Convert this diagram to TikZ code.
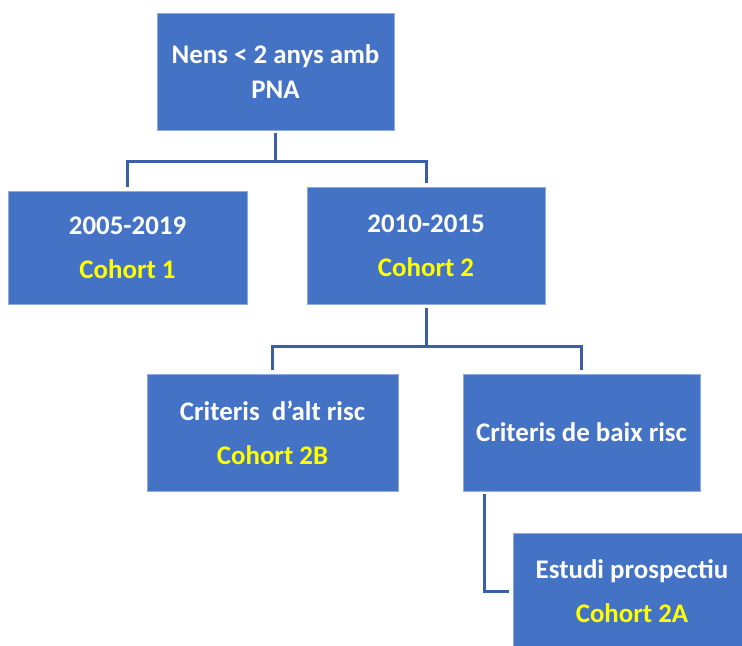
\documentclass[tikz,border=0pt]{standalone}
\usepackage{fontspec}
\setmainfont{Carlito}
\usepackage{xcolor}
\definecolor{boxblue}{RGB}{68,114,196}
\definecolor{boxedge}{RGB}{143,170,220}
\definecolor{linkblue}{RGB}{59,94,168}
\definecolor{cohortyellow}{RGB}{255,255,0}

\begin{document}
\begin{tikzpicture}[
        box/.style={
            rectangle,
            fill=boxblue,
            draw=boxedge,
            line width=0.4pt,
            text=white,
            align=center,
            inner sep=0pt,
            minimum height=2.34cm,
            font=\bfseries\fontsize{15.3}{20.4}\selectfont,
          },
        box/.default=4.74cm,
        link/.style={
            draw=linkblue,
            line width=1.7pt,
          },
        cohort/.style={text=cohortyellow}
        ]
        \useasboundingbox (0, 0) rectangle (14.84, -12.9);
        \clip (0, 0) rectangle (14.84, -12.9);

        \node[box, minimum width=4.74cm] (n0) at (5.51, -1.43) {Nens < 2 anys amb\\PNA};
        \node[box, minimum width=4.78cm, minimum height=2.26cm] (y1) at (2.55, -4.95)
            {2005-2019\\[4.6pt]\textcolor{cohortyellow}{Cohort 1}};
        \node[box, minimum width=4.76cm] (y2) at (8.52, -4.91)
            {2010-2015\\[4.6pt]\textcolor{cohortyellow}{Cohort 2}};
        \node[box, minimum width=5.02cm] (r1) at (5.45, -8.65)
            {Criteris\ \ d’alt risc\\[4.6pt]\textcolor{cohortyellow}{Cohort 2B}};
        \node[box, minimum width=4.74cm] (r2) at (11.63, -8.65) {Criteris de baix risc};
        \node[box, minimum width=4.76cm] (e1) at (12.64, -11.83)
            {Estudi prospectiu\\[4.6pt]\textcolor{cohortyellow}{Cohort 2A}};

        % connectors
        \draw[link, shorten <=0.06cm, shorten >=0.08cm] (n0.south) -- ++(0, -0.62) -| (y1.north);
        \draw[link, shorten <=0.06cm, shorten >=0.08cm] (n0.south) -- ++(0, -0.62) -| (y2.north);
        \draw[link, shorten <=0.08cm, shorten >=0.08cm] (y2.south) -- ++(0, -0.84) -| (r1.north);
        \draw[link, shorten <=0.08cm, shorten >=0.08cm] (y2.south) -- ++(0, -0.84) -| (r2.north);
        \draw[link, shorten <=0.06cm, shorten >=0.08cm] ([xshift=0.44cm]r2.south west) |- (e1.west);
    \end{tikzpicture}
\end{document}
